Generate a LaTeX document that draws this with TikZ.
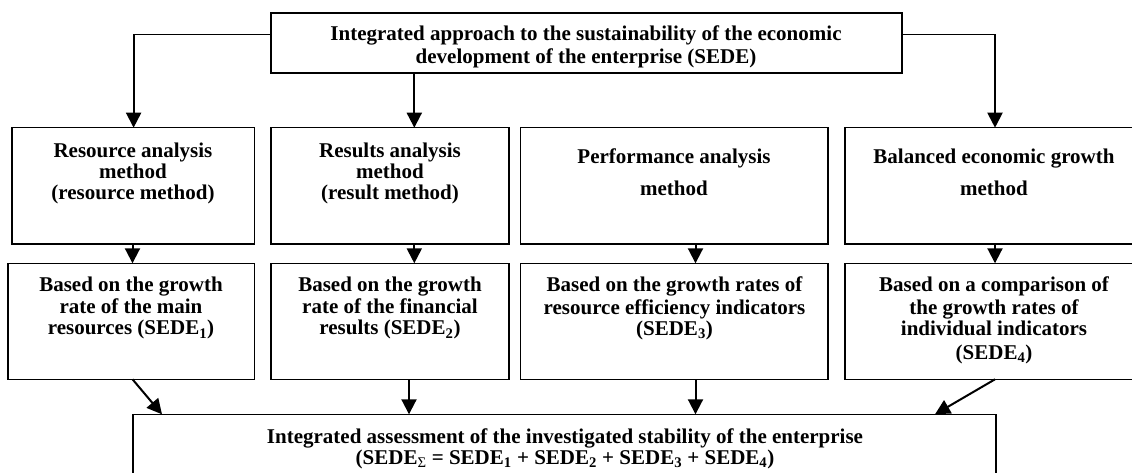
\documentclass[tikz,border=0pt]{standalone}
\usepackage{fontspec}
\setmainfont{Liberation Serif}
\usetikzlibrary{arrows.meta,calc}
\tikzset{
  box/.style={draw, line width=1.6pt, rectangle, inner sep=0pt, outer sep=0pt, anchor=north west},
  lbl/.style={inner sep=0pt, anchor=north, align=center, font=\fontsize{21}{21}\selectfont\bfseries},
  arr/.style={line width=2pt, -{Triangle[width=15pt,length=15pt]}},
  feed/.style={line width=1.3pt},
}
\newcommand\sd[1]{SEDE\textsubscript{#1}}
\begin{document}
\begin{tikzpicture}[x=1pt,y=-1pt]
\useasboundingbox (0,0) rectangle (1132,473);
\clip (0,0) rectangle (1132,473);
\fill[white] (0,0) rectangle (1132,473);
% boxes
\node[box, minimum width=631pt, minimum height=60pt] (top) at (270.7,13.3) {};
\node[box, minimum width=242.5pt, minimum height=116.3pt] (r1a) at (12,127.7) {};
\node[box, minimum width=238.3pt, minimum height=116.3pt] (r1b) at (270.7,127.7) {};
\node[box, minimum width=307.5pt, minimum height=116.3pt] (r1c) at (520.5,127.7) {};
\node[box, minimum width=300pt, minimum height=116.3pt] (r1d) at (845,127.7) {};
\node[box, minimum width=246.5pt, minimum height=116pt] (r2a) at (8,263.3) {};
\node[box, minimum width=238.3pt, minimum height=116pt] (r2b) at (270.7,263.3) {};
\node[box, minimum width=307.5pt, minimum height=116pt] (r2c) at (520.5,263.3) {};
\node[box, minimum width=300pt, minimum height=116pt] (r2d) at (845,263.3) {};
\node[box, minimum width=863pt, minimum height=90pt] (bot) at (133,414.3) {};
% labels
\node[lbl] (ttop) at (586,26) {\strut Integrated approach to the sustainability of the economic\\development of the enterprise (SEDE)};
\node[lbl] (t1a) at (133,142.3) {\strut Resource analysis\\method\\(resource method)};
\node[lbl] (t1b) at (390,142.3) {\strut Results analysis\\method\\(result method)};
\node[lbl] (t1c) at (674,148.3) {\strut Performance analysis\\[11pt]method};
\node[lbl] (t1d) at (994,148.3) {\strut Balanced economic growth\\[11pt]method};
\node[lbl] (t2a) at (131,277) {\strut Based on the growth\\rate of the main\\resources (\sd{1})};
\node[lbl] (t2b) at (390,277) {\strut Based on the growth\\rate of the financial\\results (\sd{2})};
\node[lbl] (t2c) at (674.5,277) {\strut Based on the growth rates of\\resource efficiency indicators\\(\sd{3})};
\node[lbl] (t2d) at (994,277) {\strut Based on a comparison of\\the growth rates of\\individual indicators\\[3pt](\sd{4})};
\node[lbl] (tbot) at (565,428.3) {\strut Integrated assessment of the investigated stability of the enterprise\\(SEDE\textsubscript{\mdseries Σ} = \sd{1} + \sd{2} + \sd{3} + \sd{4})};
% connector helper coordinates
\coordinate (jl) at (133.6,34.3);
\coordinate (jr) at (995,34.3);
\coordinate (xm) at (414.3,0);
\coordinate (xa) at (132.5,0);
\coordinate (xc) at (695.5,0);
\coordinate (xb2) at (409,0);
\coordinate (ea) at (162,414.3);
\coordinate (ed) at (935,414.3);
% top to row 1
\draw[feed] (top.west |- jl) -- (jl);
\draw[arr] (jl) -- (jl |- r1a.north);
\draw[feed] (top.east |- jr) -- (jr);
\draw[arr] (jr) -- (jr |- r1d.north);
\draw[arr] (top.south -| xm) -- (r1b.north -| xm);
% row 1 to row 2
\draw[arr] (r1a.south -| xa) -- (r2a.north -| xa);
\draw[arr] (r1b.south -| xm) -- (r2b.north -| xm);
\draw[arr] (r1c.south -| xc) -- (r2c.north -| xc);
\draw[arr] (r1d.south -| jr) -- (r2d.north -| jr);
% row 2 to bottom
\draw[arr] (r2a.south -| xa) -- (bot.north -| ea);
\draw[arr] (r2b.south -| xb2) -- (bot.north -| xb2);
\draw[arr] (r2c.south -| xc) -- (bot.north -| xc);
\draw[arr] (r2d.south -| jr) -- (bot.north -| ed);
\end{tikzpicture}
\end{document}
